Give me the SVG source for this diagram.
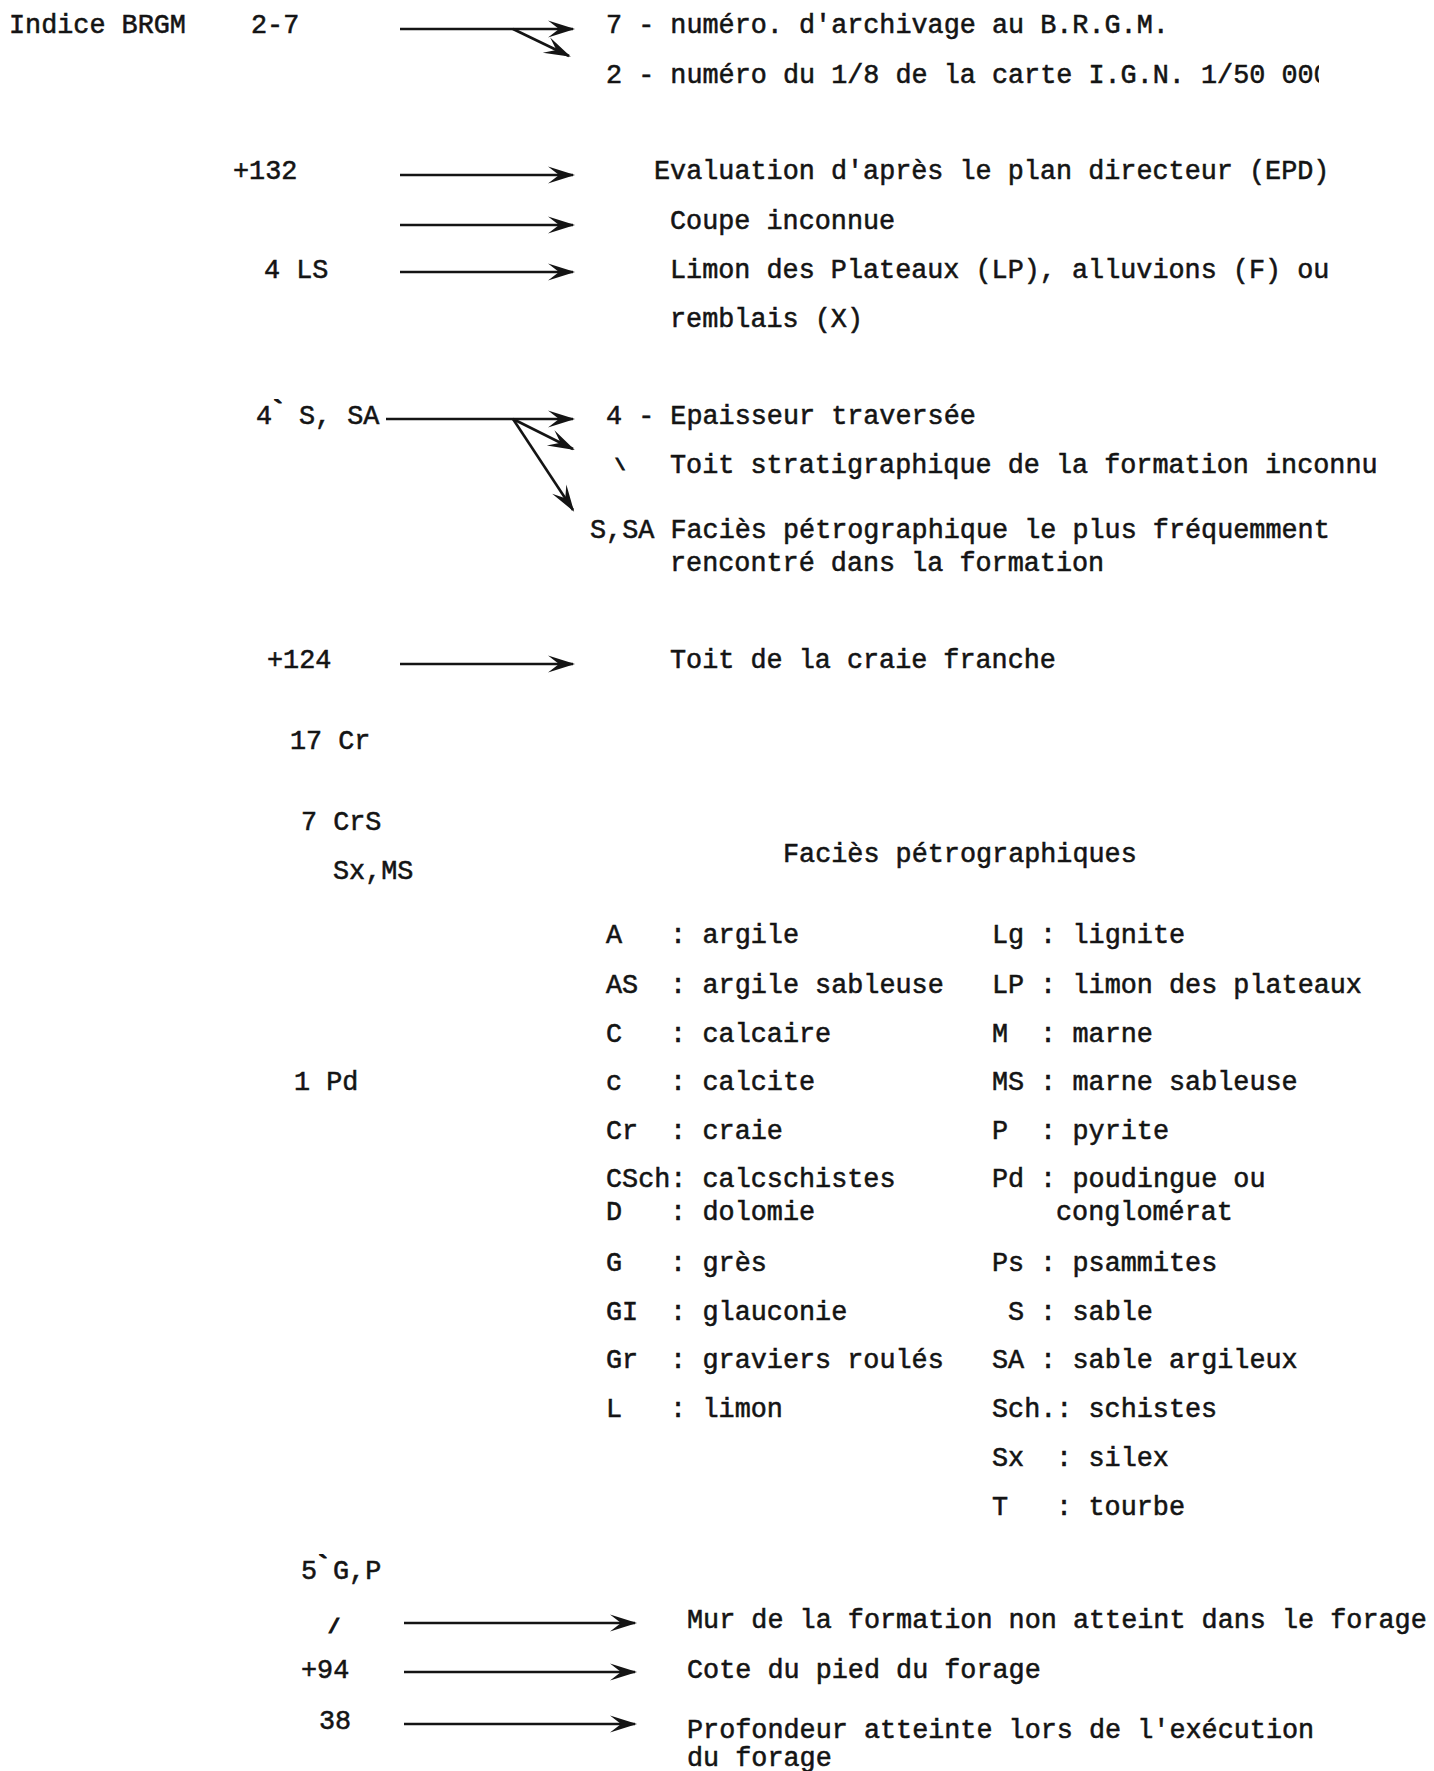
<svg xmlns="http://www.w3.org/2000/svg" width="1434" height="1771" viewBox="0 0 1434 1771">
<style>
text { font-family: "Liberation Mono", "DejaVu Sans Mono", monospace; font-size: 26.8px; fill: #141414; stroke: #141414; stroke-width: 0.55px; }
.tick { font-weight: bold; stroke-width: 1px; }
.ln { stroke: #141414; stroke-width: 2.6; fill: none; marker-end: url(#ah); }
</style>
<defs>
<marker id="ah" markerUnits="userSpaceOnUse" markerWidth="34" markerHeight="22" viewBox="-30 -11 34 22" refX="0" refY="0" orient="auto">
<path d="M2,0 L-25,-8.5 L-14,0 L-25,8.5 Z" fill="#141414"/>
</marker>
<clipPath id="clipR"><rect x="0" y="0" width="1319" height="1771"/></clipPath>
</defs>
<rect width="1434" height="1771" fill="#ffffff"/>

<g id="n-indice"><text x="9" y="33">Indice BRGM</text></g>
<g id="n-27"><text x="251" y="33">2-7</text></g>
<g id="n-archivage"><text x="606" y="33">7 - numéro. d'archivage au B.R.G.M.</text></g>
<g id="n-ign"><text x="606" y="83" clip-path="url(#clipR)">2 - numéro du 1/8 de la carte I.G.N. 1/50 000</text></g>

<g id="n-132"><text x="233" y="179">+132</text></g>
<g id="n-epd"><text x="654" y="179">Evaluation d'après le plan directeur (EPD)</text></g>
<g id="n-coupe"><text x="670" y="229">Coupe inconnue</text></g>
<g id="n-4ls"><text x="264" y="278">4 LS</text></g>
<g id="n-limon"><text x="670" y="278">Limon des Plateaux (LP), alluvions (F) ou</text><text x="670" y="327">remblais (X)</text></g>

<g id="n-4ssa"><text x="256" y="424">4<tspan x="270" dy="-5" class="tick">`</tspan><tspan x="299" dy="5">S, SA</tspan></text></g>
<g id="n-epaisseur"><text x="606" y="424">4 - Epaisseur traversée</text></g>
<g id="n-toit"><text class="tick" x="615" y="470" style="font-size:17px">\</text><text x="670" y="473">Toit stratigraphique de la formation inconnu</text></g>
<g id="n-facies"><text x="590" y="538">S,SA Faciès pétrographique le plus fréquemment</text><text x="670" y="571">rencontré dans la formation</text></g>

<g id="n-124"><text x="267" y="668">+124</text></g>
<g id="n-craie"><text x="670" y="668">Toit de la craie franche</text></g>
<g id="n-17cr"><text x="290" y="749">17 Cr</text></g>
<g id="n-7crs"><text x="301" y="830">7 CrS</text></g>
<g id="n-sxms"><text x="333" y="879">Sx,MS</text></g>
<g id="n-1pd"><text x="294" y="1090">1 Pd</text></g>

<g id="n-legend">
<text x="783" y="862">Faciès pétrographiques</text>
<text y="943"><tspan x="606">A</tspan><tspan x="670">:</tspan><tspan x="702.5">argile</tspan></text>
<text y="993"><tspan x="606">AS</tspan><tspan x="670">:</tspan><tspan x="702.5">argile sableuse</tspan></text>
<text y="1042"><tspan x="606">C</tspan><tspan x="670">:</tspan><tspan x="702.5">calcaire</tspan></text>
<text y="1090"><tspan x="606">c</tspan><tspan x="670">:</tspan><tspan x="702.5">calcite</tspan></text>
<text y="1139"><tspan x="606">Cr</tspan><tspan x="670">:</tspan><tspan x="702.5">craie</tspan></text>
<text y="1187"><tspan x="606">CSch:</tspan><tspan x="702.5">calcschistes</tspan></text>
<text y="1220"><tspan x="606">D</tspan><tspan x="670">:</tspan><tspan x="702.5">dolomie</tspan></text>
<text y="1271"><tspan x="606">G</tspan><tspan x="670">:</tspan><tspan x="702.5">grès</tspan></text>
<text y="1320"><tspan x="606">GI</tspan><tspan x="670">:</tspan><tspan x="702.5">glauconie</tspan></text>
<text y="1368"><tspan x="606">Gr</tspan><tspan x="670">:</tspan><tspan x="702.5">graviers roulés</tspan></text>
<text y="1417"><tspan x="606">L</tspan><tspan x="670">:</tspan><tspan x="702.5">limon</tspan></text>

<text y="943"><tspan x="992">Lg</tspan><tspan x="1040">:</tspan><tspan x="1072.5">lignite</tspan></text>
<text y="993"><tspan x="992">LP</tspan><tspan x="1040">:</tspan><tspan x="1072.5">limon des plateaux</tspan></text>
<text y="1042"><tspan x="992">M</tspan><tspan x="1040">:</tspan><tspan x="1072.5">marne</tspan></text>
<text y="1090"><tspan x="992">MS</tspan><tspan x="1040">:</tspan><tspan x="1072.5">marne sableuse</tspan></text>
<text y="1139"><tspan x="992">P</tspan><tspan x="1040">:</tspan><tspan x="1072.5">pyrite</tspan></text>
<text y="1187"><tspan x="992">Pd</tspan><tspan x="1040">:</tspan><tspan x="1072.5">poudingue ou</tspan></text>
<text x="1056" y="1220">conglomérat</text>
<text y="1271"><tspan x="992">Ps</tspan><tspan x="1040">:</tspan><tspan x="1072.5">psammites</tspan></text>
<text y="1320"><tspan x="1008">S</tspan><tspan x="1040">:</tspan><tspan x="1072.5">sable</tspan></text>
<text y="1368"><tspan x="992">SA</tspan><tspan x="1040">:</tspan><tspan x="1072.5">sable argileux</tspan></text>
<text y="1417"><tspan x="992">Sch.:</tspan><tspan x="1088.5">schistes</tspan></text>
<text y="1466"><tspan x="992">Sx</tspan><tspan x="1056">:</tspan><tspan x="1088.5">silex</tspan></text>
<text y="1515"><tspan x="992">T</tspan><tspan x="1056">:</tspan><tspan x="1088.5">tourbe</tspan></text>
</g>

<g id="n-5gp"><text x="301" y="1579">5<tspan x="315" dy="-5" class="tick">`</tspan><tspan x="333" dy="5">G,P</tspan></text></g>
<g id="n-slash"><text class="tick" x="328" y="1633" style="font-size:20px">/</text></g>
<g id="n-mur"><text x="687" y="1628">Mur de la formation non atteint dans le forage</text></g>
<g id="n-94"><text x="301" y="1678">+94</text></g>
<g id="n-cote"><text x="687" y="1678">Cote du pied du forage</text></g>
<g id="n-38"><text x="319" y="1729">38</text></g>
<g id="n-profondeur"><text x="687" y="1738">Profondeur atteinte lors de l'exécution</text><text x="687" y="1766">du forage</text></g>

<g id="connectors">
<line class="ln" x1="400" y1="29" x2="573" y2="29"/>
<line class="ln" x1="513" y1="29" x2="569" y2="56"/>
<line class="ln" x1="400" y1="175" x2="573" y2="175"/>
<line class="ln" x1="400" y1="225" x2="573" y2="225"/>
<line class="ln" x1="400" y1="272" x2="573" y2="272"/>
<line class="ln" x1="386" y1="419" x2="573" y2="419"/>
<line class="ln" x1="513" y1="419" x2="573" y2="449"/>
<line class="ln" x1="513" y1="419" x2="573" y2="510"/>
<line class="ln" x1="400" y1="664" x2="573" y2="664"/>
<line class="ln" x1="404" y1="1623" x2="635" y2="1623"/>
<line class="ln" x1="404" y1="1672" x2="635" y2="1672"/>
<line class="ln" x1="404" y1="1724" x2="635" y2="1724"/>
</g>
</svg>
